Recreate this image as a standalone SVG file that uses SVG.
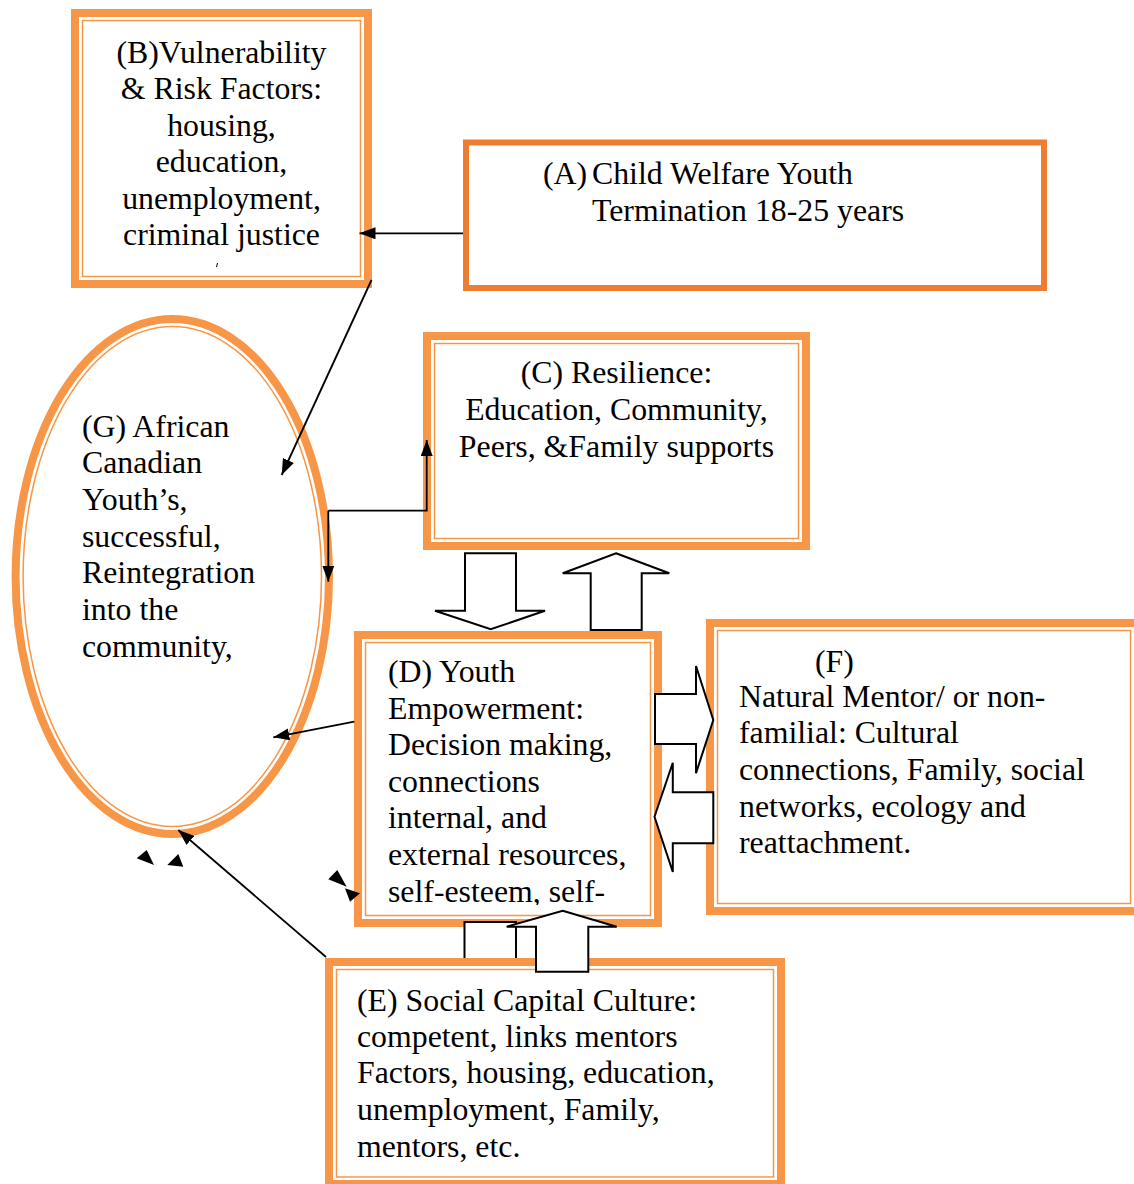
<svg xmlns="http://www.w3.org/2000/svg" width="1134" height="1184" viewBox="0 0 1134 1184">
<style>
.bg{fill:#ffffff}
.thick{fill:#ffffff;stroke:#F79646;stroke-width:8}
.thin{fill:none;stroke:#F79646;stroke-width:1.5}
.boxA{fill:#ffffff;stroke:#ED7D31;stroke-width:6}
.t{font-family:"Liberation Serif","Times New Roman",serif;font-size:31.8px;fill:#000000}
.c{text-anchor:middle}
.ln{fill:none;stroke:#000000;stroke-width:1.8}
.blk{fill:#ffffff;stroke:#000000;stroke-width:2;stroke-linejoin:miter}
.tri{fill:#000000}
</style>
<defs>
<marker id="ah" viewBox="0 0 16 12" refX="16" refY="6" markerWidth="16" markerHeight="12" markerUnits="userSpaceOnUse" orient="auto">
<path d="M0,0 L16,6 L0,12 z" fill="#000000"/>
</marker>
<clipPath id="clipD"><rect x="360" y="630" width="300" height="275"/></clipPath>
<clipPath id="clipB"><rect x="70" y="8" width="300" height="260"/></clipPath>
</defs>
<rect class="bg" x="0" y="0" width="1134" height="1184"/>

<g id="nodeB">
<rect class="thick" x="75" y="13" width="293" height="271"/>
<rect class="thin" x="82.5" y="20.5" width="278" height="256"/>
<g clip-path="url(#clipB)">
<text class="t c" x="221.5" y="62.5">(B)Vulnerability</text>
<text class="t c" x="221.5" y="99">&amp; Risk Factors:</text>
<text class="t c" x="221.5" y="135.5">housing,</text>
<text class="t c" x="221.5" y="172">education,</text>
<text class="t c" x="221.5" y="208.5">unemployment,</text>
<text class="t c" x="221.5" y="245">criminal justice</text>
</g>
<line x1="217.5" y1="263" x2="216.5" y2="267" stroke="#000" stroke-width="1"/>
</g>

<g id="nodeA">
<rect class="boxA" x="466" y="142.5" width="578" height="145.5"/>
<text class="t" x="543" y="184">(A)</text>
<text class="t" x="592" y="184">Child Welfare Youth</text>
<text class="t" x="592" y="221">Termination 18-25 years</text>
</g>

<g id="nodeC">
<rect class="thick" x="427" y="336" width="379" height="210"/>
<rect class="thin" x="434.5" y="343.5" width="364" height="195"/>
<text class="t c" x="616.5" y="383">(C) Resilience:</text>
<text class="t c" x="616.5" y="420">Education, Community,</text>
<text class="t c" x="616.5" y="457">Peers, &amp;Family supports</text>
</g>

<g id="nodeG">
<ellipse class="thick" cx="172.3" cy="576.5" rx="156.7" ry="257.5"/>
<ellipse class="thin" cx="172.3" cy="576.5" rx="149.2" ry="250"/>
<text class="t" x="82" y="436.7">(G) African</text>
<text class="t" x="82" y="473.3">Canadian</text>
<text class="t" x="82" y="510">Youth’s,</text>
<text class="t" x="82" y="546.7">successful,</text>
<text class="t" x="82" y="583.3">Reintegration</text>
<text class="t" x="82" y="620">into the</text>
<text class="t" x="82" y="656.7">community,</text>
</g>

<g id="nodeD">
<rect class="thick" x="358" y="635" width="300" height="288"/>
<rect class="thin" x="365.5" y="642.5" width="285" height="273"/>
<g clip-path="url(#clipD)">
<text class="t" x="388" y="681.7">(D) Youth</text>
<text class="t" x="388" y="718.5">Empowerment:</text>
<text class="t" x="388" y="755">Decision making,</text>
<text class="t" x="388" y="791.7">connections</text>
<text class="t" x="388" y="828.3">internal, and</text>
<text class="t" x="388" y="865">external resources,</text>
<text class="t" x="388" y="901.7">self-esteem, self-</text>
</g>
</g>

<g id="nodeF">
<rect class="thick" x="710" y="623" width="428" height="288"/>
<rect class="thin" x="717.5" y="630.5" width="413" height="273"/>
<text class="t" x="815" y="671.7">(F)</text>
<text class="t" x="739" y="706.7">Natural Mentor/ or non-</text>
<text class="t" x="739" y="743.3">familial: Cultural</text>
<text class="t" x="739" y="780">connections, Family, social</text>
<text class="t" x="739" y="816.7">networks, ecology and</text>
<text class="t" x="739" y="853.3">reattachment.</text>
</g>

<path id="hiddenArrowBody" class="blk" d="M464.5,958 L464.5,922 L516,922 L516,958"/>

<g id="nodeE">
<rect class="thick" x="329" y="962" width="452" height="222"/>
<rect class="thin" x="336.5" y="969.5" width="437" height="207.5"/>
<text class="t" x="357" y="1010.7">(E) Social Capital Culture:</text>
<text class="t" x="357" y="1046.7">competent, links mentors</text>
<text class="t" x="357" y="1083.3">Factors, housing, education,</text>
<text class="t" x="357" y="1120">unemployment, Family,</text>
<text class="t" x="357" y="1156.7">mentors, etc.</text>
</g>

<g id="connectors">
<line class="ln" x1="463" y1="233.3" x2="359.5" y2="233.3" marker-end="url(#ah)"/>
<line class="ln" x1="371.5" y1="280" x2="281.7" y2="475" marker-end="url(#ah)"/>
<polyline class="ln" points="328.3,510.7 426.7,510.7 426.7,440" marker-end="url(#ah)"/>
<line class="ln" x1="328.3" y1="510.7" x2="328.3" y2="581.7" marker-end="url(#ah)"/>
<line class="ln" x1="354.3" y1="721.7" x2="273.3" y2="737.3" marker-end="url(#ah)"/>
<line class="ln" x1="326" y1="957" x2="178.3" y2="830" marker-end="url(#ah)"/>
<polygon class="tri" points="146.7,850 136.7,858.3 154,865"/>
<polygon class="tri" points="178.3,854 167.3,865 183.3,866.7"/>
<polygon class="tri" points="337.3,870 328.3,879.3 346.7,886.7"/>
<polygon class="tri" points="345,888.3 360,893.3 350,901.7"/>
<polygon class="blk" points="465,553.3 516,553.3 516,610.7 545,610.7 490.7,629.3 435,610.7 465,610.7"/>
<polygon class="blk" points="616,553.3 669.3,573.3 641.7,573.3 641.7,630 590.7,630 590.7,573.3 562.7,573.3"/>
<polygon class="blk" points="655,694 696,694 696,666 713.3,720 696,773.3 696,744 655,744"/>
<polygon class="blk" points="713.3,792.3 672.8,792.3 672.8,762.7 654.5,816.7 672.8,872 672.8,843.3 713.3,843.3"/>
<polygon class="blk" points="562.7,910.7 616.7,926.7 588.3,926.7 588.3,971.7 536,971.7 536,926.7 506.7,926.7"/>
</g>
</svg>
